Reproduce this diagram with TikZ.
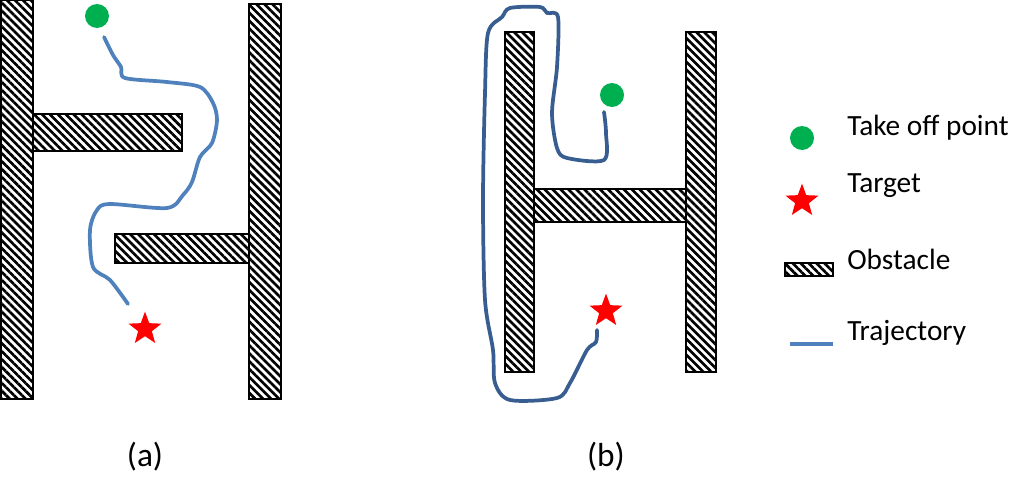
\documentclass[tikz,border=0pt]{standalone}
\usepackage{fontspec}
\setmainfont{Carlito}
\usetikzlibrary{shapes.geometric}
\usetikzlibrary{patterns.meta}

\definecolor{dotgreen}{RGB}{0,176,80}
\definecolor{trajlight}{RGB}{79,129,189}
\definecolor{trajdark}{RGB}{56,93,145}

\tikzset{
  obstacle/.style={draw=black, line width=2.2pt, pattern={Lines[angle=-45,distance=4.2pt,line width=2pt]}},
  takeoff/.style={circle, fill=dotgreen, inner sep=0pt, minimum size=18pt},
  target/.style={star, star points=5, star point ratio=2.4, fill=red, inner sep=0pt, minimum size=26pt},
  traj/.style={line width=2.8pt, line cap=round, line join=round},
  lbl/.style={anchor=west, inner sep=0.75pt, font=\fontsize{22}{26}\selectfont},
  captiontext/.style={inner sep=0.75pt, font=\fontsize{25}{30}\selectfont}
}

\begin{document}
\begin{tikzpicture}[x=0.75pt,y=0.75pt,yscale=-1,xscale=1]
\useasboundingbox (0,0) rectangle (1034,500);

%Panel (a): obstacles
\draw [obstacle] (1,0) rectangle (33,399);
\draw [obstacle] (249,4) rectangle (281,399);
\draw [obstacle] (33,114) rectangle (182,151);
\draw [obstacle] (115,234) rectangle (249,263);
%Panel (a): take off point and target
\node [takeoff] (starta) at (97,16) {};
\node [target] (goala) at (145,329) {};
%Panel (a): trajectory
\draw [traj, trajlight] plot [smooth, tension=0.5] coordinates {(104,37) (113,55) (121,67) (125,78) (167,82) (200,87) (213,103) (217,120) (212,143) (200,157) (192,182) (183,195) (167,208) (110,204) (97,210) (90,230) (93,267) (110,280) (128,304)};

%Panel (b): obstacles
\draw [obstacle] (505,32) rectangle (534,372);
\draw [obstacle] (686,32) rectangle (716,372);
\draw [obstacle] (534,189) rectangle (686,222);
%Panel (b): take off point and target
\node [takeoff] (startb) at (612,95) {};
\node [target] (goalb) at (606,311) {};
%Panel (b): trajectory
\draw [traj, trajdark] plot [smooth, tension=0.5] coordinates {(604,112) (606,133) (604,160) (567,158) (557,148) (552,113) (557,67) (558,17) (547,13) (540,7) (510,8) (502,17) (488,33) (485,93) (483,200) (485,300) (493,350) (495,383) (510,400) (557,398) (570,383) (587,350) (596,342) (597,330)};

%Legend
\node [takeoff] (lgstart) at (802,138) {};
\node [target] (lgtarget) at (802,201) {};
\draw [obstacle] (785,263) rectangle (833,276);
\draw [traj, trajlight, line cap=butt] (790,344) -- (833,344);

% Text Node
\node [lbl] (txtstart) at (846,128) {Take off point};
\node [lbl] (txttarget) at (846,186) {Target};
\node [lbl] (txtobst) at (846,259) {Obstacle};
\node [lbl] (txttraj) at (846,333) {Trajectory};
\node [captiontext] (capa) at (145,457) {(a)};
\node [captiontext] (capb) at (606,457) {(b)};

\end{tikzpicture}
\end{document}
